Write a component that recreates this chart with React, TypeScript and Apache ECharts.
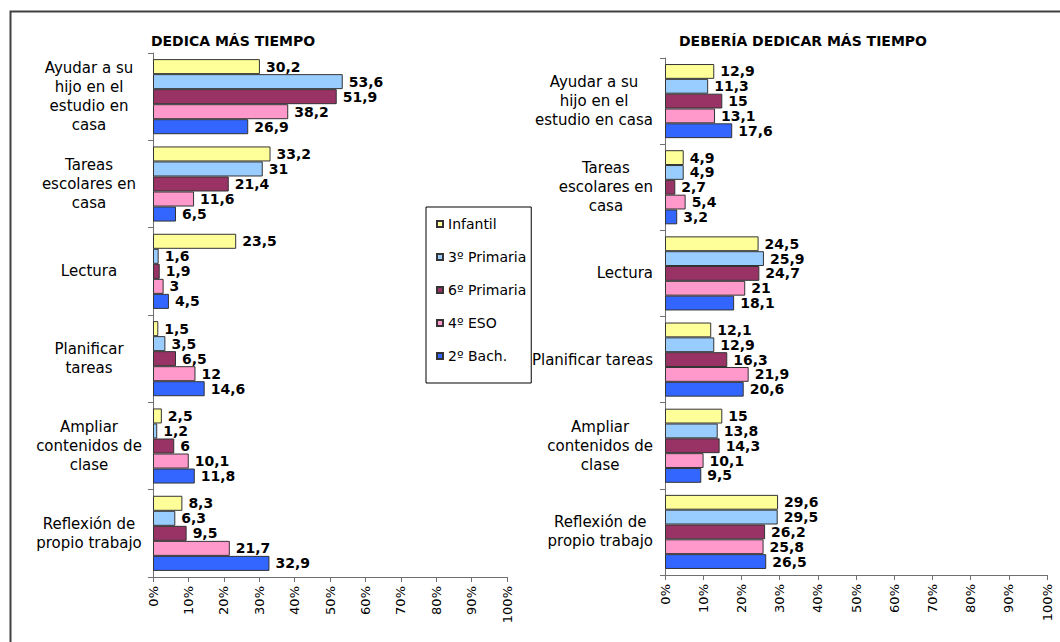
import React, { useEffect, useRef } from "react";
import * as echarts from "echarts";

const seriesNames = ["Infantil", "3º Primaria", "6º Primaria", "4º ESO", "2º Bach."];
const seriesColors = ["#FFFF99", "#99CCFF", "#993366", "#FF99CC", "#3366FF"];

const categoriesLeft = [
  "Ayudar a su\nhijo en el\nestudio en\ncasa",
  "Tareas\nescolares en\ncasa",
  "Lectura",
  "Planificar\ntareas",
  "Ampliar\ncontenidos de\nclase",
  "Reflexión de\npropio trabajo",
];
const categoriesRight = [
  "Ayudar a su\nhijo en el\nestudio en casa",
  "Tareas\nescolares en\ncasa",
  "Lectura",
  "Planificar tareas",
  "Ampliar\ncontenidos de\nclase",
  "Reflexión de\npropio trabajo",
];

const leftInfantil = [30.2, 33.2, 23.5, 1.5, 2.5, 8.3];
const left3Primaria = [53.6, 31, 1.6, 3.5, 1.2, 6.3];
const left6Primaria = [51.9, 21.4, 1.9, 6.5, 6, 9.5];
const left4ESO = [38.2, 11.6, 3, 12, 10.1, 21.7];
const left2Bach = [26.9, 6.5, 4.5, 14.6, 11.8, 32.9];

const rightInfantil = [12.9, 4.9, 24.5, 12.1, 15, 29.6];
const right3Primaria = [11.3, 4.9, 25.9, 12.9, 13.8, 29.5];
const right6Primaria = [15, 2.7, 24.7, 16.3, 14.3, 26.2];
const right4ESO = [13.1, 5.4, 21, 21.9, 10.1, 25.8];
const right2Bach = [17.6, 3.2, 18.1, 20.6, 9.5, 26.5];

const xTicks = [0, 10, 20, 30, 40, 50, 60, 70, 80, 90, 100];

const leftData = [leftInfantil, left3Primaria, left6Primaria, left4ESO, left2Bach];
const rightData = [rightInfantil, right3Primaria, right6Primaria, right4ESO, right2Bach];

const FONT = "DejaVu Sans";

export default function App() {
  const ref = useRef<HTMLDivElement>(null);
  useEffect(() => {
    if (!ref.current) return;
    const chart = echarts.init(ref.current, undefined, { renderer: "svg" });

    const axisColor = "#707070";
    const xAxisCommon = (gridIndex: number) => ({
      type: "value" as const,
      gridIndex,
      min: xTicks[0],
      max: xTicks[xTicks.length - 1],
      interval: 10,
      axisLine: { show: true, lineStyle: { color: axisColor, width: 1 } },
      axisTick: { show: true, length: 5, lineStyle: { color: axisColor } },
      splitLine: { show: false },
      axisLabel: {
        rotate: 90,
        margin: 9,
        fontFamily: FONT,
        fontSize: 13,
        color: "#000",
        formatter: "{value}%",
      },
    });

    const yAxisCommon = (gridIndex: number, cats: string[], right: boolean) => ({
      type: "category" as const,
      gridIndex,
      data: cats,
      inverse: true,
      axisLine: { show: true, lineStyle: { color: axisColor, width: 1 } },
      axisTick: { show: true, length: 5, lineStyle: { color: axisColor } },
      axisLabel: right
        ? {
            align: "right",
            margin: 12,
            formatter: (v: string) =>
              v
                .split("\n")
                .map((l) => `{c|${l}}`)
                .join("\n"),
            rich: {
              c: { align: "center", fontFamily: FONT, fontSize: 15, color: "#000", lineHeight: 19 },
            },
          }
        : {
            align: "center",
            margin: 64,
            fontFamily: FONT,
            fontSize: 15,
            lineHeight: 19,
            color: "#000",
          },
    });

    const makeSeries = (data: number[][], idx: number) =>
      data.map((vals, i) => ({
        name: seriesNames[i],
        type: "bar" as const,
        xAxisIndex: idx,
        yAxisIndex: idx,
        data: vals,
        barGap: "0%",
        barCategoryGap: "14%",
        itemStyle: { color: seriesColors[i], borderColor: "#333", borderWidth: 1 },
        label: {
          show: true,
          position: "right",
          distance: 6,
          fontFamily: FONT,
          fontSize: 14,
          fontWeight: "bold",
          color: "#000",
          formatter: (p: any) => String(p.value).replace(".", ","),
        },
      }));

    chart.setOption({
      animation: false,
      backgroundColor: "#fff",
      title: [
        {
          text: "DEDICA MÁS TIEMPO",
          left: 228,
          top: 29,
          textAlign: "center",
          textStyle: { fontFamily: FONT, fontSize: 14, fontWeight: "bold", color: "#000" },
        },
        {
          text: "DEBERÍA DEDICAR MÁS TIEMPO",
          left: 798,
          top: 29,
          textAlign: "center",
          textStyle: { fontFamily: FONT, fontSize: 14, fontWeight: "bold", color: "#000" },
        },
      ],
      legend: {
        orient: "vertical",
        left: 426,
        top: 207,
        data: seriesNames,
        itemWidth: 6,
        itemHeight: 6,
        itemGap: 19,
        padding: [10, 5, 20, 10],
        borderColor: "#000",
        borderWidth: 1,
        backgroundColor: "#fff",
        icon: "rect",
        textStyle: { fontFamily: FONT, fontSize: 14, color: "#000" },
      },
      grid: [
        { left: 153, top: 53, width: 354, height: 524, containLabel: false },
        { left: 665, top: 58, width: 382, height: 517, containLabel: false },
      ],
      xAxis: [xAxisCommon(0), xAxisCommon(1)],
      yAxis: [yAxisCommon(0, categoriesLeft, false), yAxisCommon(1, categoriesRight, true)],
      series: [...makeSeries(leftData, 0), ...makeSeries(rightData, 1)],
      graphic: [
        {
          type: "rect",
          shape: { x: 10.5, y: 11.5, width: 1100, height: 700 },
          style: { fill: "none", stroke: "#404040", lineWidth: 2 },
          silent: true,
          z: 100,
        },
      ],
    });

    return () => chart.dispose();
  }, []);

  return (
    <div
      ref={ref}
      style={{ position: "fixed", left: 0, top: 0, width: 1060, height: 642 }}
    />
  );
}
